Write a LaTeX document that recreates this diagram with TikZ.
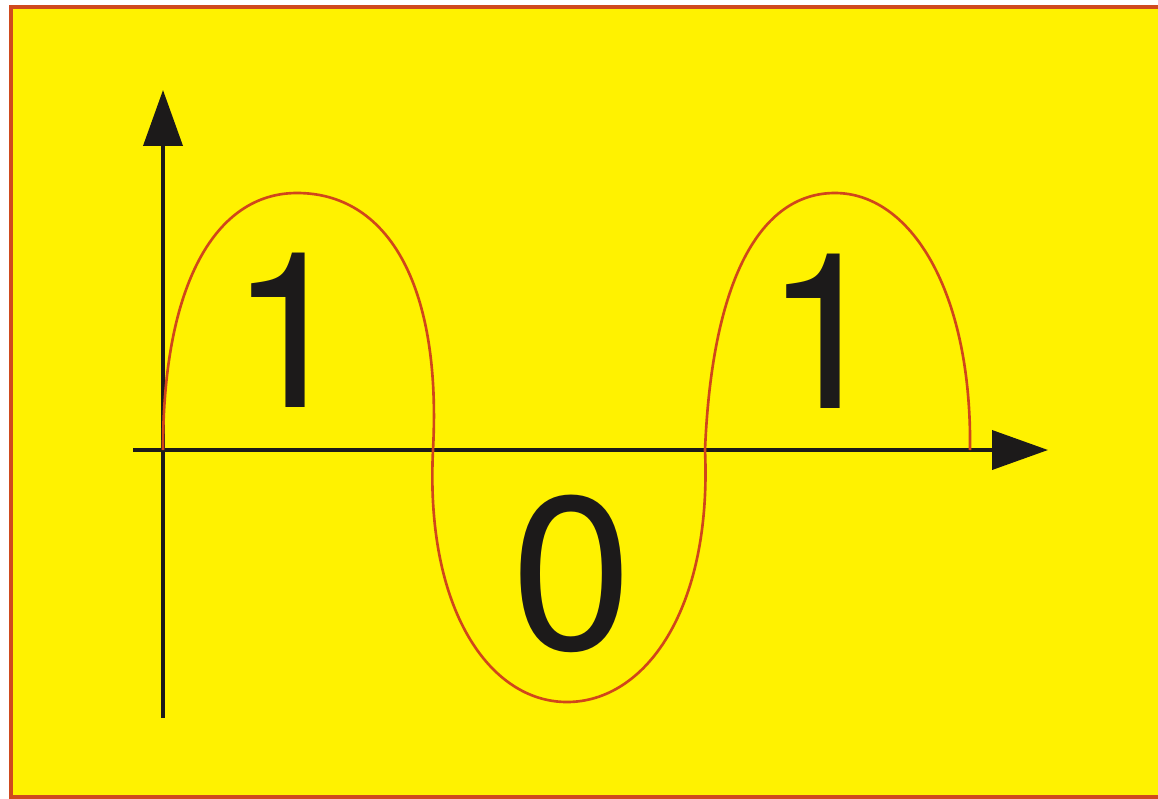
\documentclass[tikz,border=0pt]{standalone}
\usepackage{fontspec}
\newfontfamily\digitfont{TeX Gyre Heros}
\usepackage{tikz}
\usetikzlibrary{arrows.meta,positioning,calc}
\usepackage{xcolor}
\definecolor{panel}{HTML}{FFF200}
\definecolor{wavecol}{HTML}{D0461B}
\definecolor{framecol}{HTML}{CF4A1E}
\definecolor{darktext}{HTML}{1C1A1A}

\begin{document}
\begin{tikzpicture}[
  x=0.02cm, y=-0.02cm,
  axis/.style={line width=2.2pt, color=darktext,
               -{Triangle[length=1.12cm, width=0.78cm]}},
  wave/.style={line width=1.5pt, color=wavecol},
  digit/.style={inner sep=0pt, text=darktext, font=\digitfont\fontsize{124}{124}\selectfont},
]
  \useasboundingbox (0,0) rectangle (1158,798);
  \fill[white] (0,0) rectangle (1158,798);
  \fill[panel] (11,7) rectangle (1158,797);
  \draw[framecol, line width=2.4pt] (1158,7) -- (11,7) -- (11,797) -- (1158,797);

  % axes
  \coordinate (ybot) at (163,718);
  \coordinate (ytop) at (163,90);
  \coordinate (xleft) at (133,450);
  \coordinate (xright) at (1048,450);
  \draw[axis] (ybot) -- (ytop);
  \draw[axis] (xleft) -- (xright);

  % zero crossings of the wave
  \coordinate (z0) at (163,450);
  \coordinate (z1) at (433,450);
  \coordinate (z2) at (705,450);
  \coordinate (z3) at (970,450);

  \draw[wave] (z0) .. controls (163,285) and (215,193) .. (297,193)
                   .. controls (385,193) and (442,280) .. (z1)
                   .. controls (425,610) and (490,702) .. (567,702)
                   .. controls (645,702) and (712,610) .. (z2)
                   .. controls (712,280) and (760,193) .. (835,193)
                   .. controls (910,193) and (972,290) .. (z3);

  \node[digit] (one) at (290,330) {1};
  \node[digit] (zero) at (572,574) {0};
  \node[digit] (two) at (825,331) {1};
\end{tikzpicture}
\end{document}
